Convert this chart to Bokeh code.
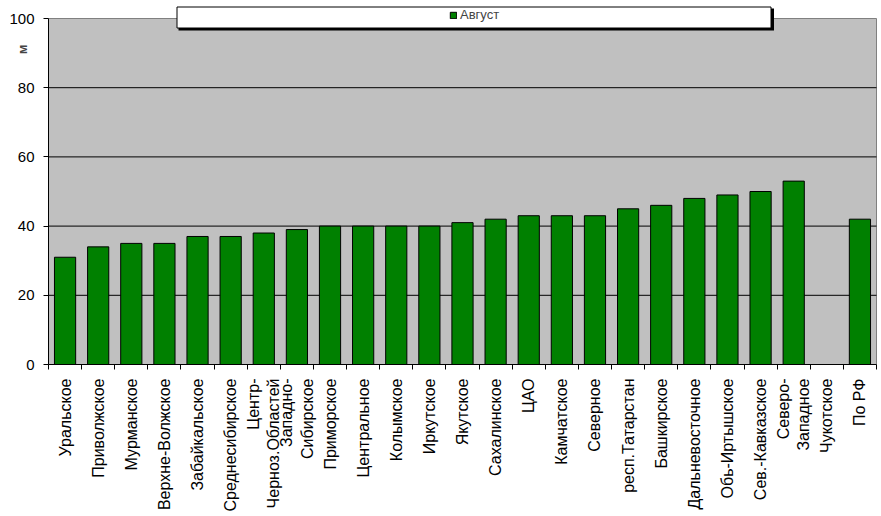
import math
from bokeh.plotting import figure
from bokeh.models import (FixedTicker, BoxAnnotation, Label, Legend, LegendItem,
                          Range1d, ColumnDataSource)
from bokeh.embed import file_html
from bokeh.resources import INLINE

# ---- data ----
regions = ["Уральское", "Приволжское", "Мурманское", "Верхне-Волжское",
           "Забайкальское", "Среднесибирское", "Центр-\nЧерноз.Областей",
           "Западно-\nСибирское", "Приморское", "Центральное", "Колымское",
           "Иркутское", "Якутское", "Сахалинское", "ЦАО", "Камчатское",
           "Северное", "респ.Татарстан", "Башкирское", "Дальневосточное",
           "Обь-Иртышское", "Сев.-Кавказское", "Северо-\nЗападное",
           "Чукотское", "По РФ"]
august = [31, 34, 35, 35, 37, 37, 38, 39, 40, 40, 40, 40, 41, 42, 43, 43,
          43, 45, 46, 48, 49, 50, 53, float("nan"), 42]
y_ticks = [0, 20, 40, 60, 80, 100]
grid_ticks = [20, 40, 60, 80]
y_max = 100
series_name = "Август"
y_label = "м"

FONT = "Liberation Sans"
W, H = 881, 516
# plot-area placement on the canvas (pixels)
PL, PR, PT, PB = 48, 876, 18, 364

n = len(regions)
centers = [i + 0.5 for i in range(n)]
xs = (PR - PL) / n          # px per category
ys = (PB - PT) / y_max      # px per unit

x_range = Range1d(-PL / xs, n + (W - PR) / xs)
y_range = Range1d(-(H - PB) / ys, y_max + PT / ys)

src = ColumnDataSource(dict(x=centers, top=august, name=regions))

p = figure(width=W, height=H, x_range=x_range, y_range=y_range,
           output_backend="svg", toolbar_location=None, title=None,
           min_border=0)
p.background_fill_color = "white"
p.border_fill_color = "white"
p.outline_line_color = None
p.xgrid.visible = False
p.ygrid.visible = False

# plot area background + its grey top/right border
p.quad(left=0, right=n, bottom=0, top=y_max, fill_color="#C0C0C0", line_color=None)
p.segment(x0=[0, n], y0=[y_max, 0], x1=[n, n], y1=[y_max, y_max],
          line_color="#808080", line_width=1)
# horizontal grid lines
p.segment(x0=[0] * len(grid_ticks), x1=[n] * len(grid_ticks),
          y0=grid_ticks, y1=grid_ticks, line_color="black", line_width=1)

r = p.vbar(x="x", top="top", width=0.64, bottom=0, source=src,
           fill_color="#008000", line_color="black", line_width=1)

# y axis
ya = p.yaxis[0]
ya.fixed_location = 0
ya.bounds = (0, y_max)
ya.ticker = FixedTicker(ticks=y_ticks)
ya.major_tick_in = 0
ya.major_tick_out = 5
ya.minor_tick_line_color = None
ya.axis_line_color = "black"
ya.major_tick_line_color = "black"
ya.major_label_text_font = FONT
ya.major_label_text_font_size = "15px"
ya.major_label_text_color = "black"
ya.major_label_standoff = 9

# x axis
xa = p.xaxis[0]
xa.fixed_location = 0
xa.bounds = (0, n)
xa.ticker = FixedTicker(ticks=centers, minor_ticks=list(range(n + 1)))
xa.major_tick_in = 0
xa.major_tick_out = 0
xa.minor_tick_in = 0
xa.minor_tick_out = 5
xa.minor_tick_line_color = "black"
xa.axis_line_color = "black"
xa.major_label_overrides = {c: lab for c, lab in zip(centers, regions)}
xa.major_label_orientation = math.pi / 2
xa.major_label_text_font = FONT
xa.major_label_text_font_size = "16px"
xa.major_label_text_color = "black"
xa.major_label_standoff = 9

# y-axis unit label
p.add_layout(Label(x=22, y=H - 49, x_units="screen", y_units="screen", text=y_label,
                   angle=math.pi / 2, text_font=FONT, text_font_size="13px",
                   text_font_style="bold", text_align="center",
                   text_baseline="middle"))

# legend box with shadow
p.add_layout(BoxAnnotation(left=178, right=773.5, top=H - 8, bottom=H - 30,
                           left_units="screen", right_units="screen",
                           top_units="screen", bottom_units="screen",
                           fill_color="black", fill_alpha=1, line_color=None,
                           level="overlay"))
p.add_layout(BoxAnnotation(left=176.5, right=770.5, top=H - 6.5, bottom=H - 27.5,
                           left_units="screen", right_units="screen",
                           top_units="screen", bottom_units="screen",
                           fill_color="white", fill_alpha=1, line_color="black",
                           line_width=1, line_alpha=1, level="overlay"))

legend = Legend(items=[LegendItem(label=series_name, renderers=[r])],
                location=(449, H - 22), orientation="horizontal",
                border_line_color=None, background_fill_alpha=0,
                padding=0, margin=0, spacing=0,
                glyph_width=8, glyph_height=8, label_standoff=3,
                label_text_font=FONT, label_text_font_size="13px",
                label_height=8, label_text_baseline="middle")
p.add_layout(legend)

open("out.html", "w").write(file_html(p, INLINE))
